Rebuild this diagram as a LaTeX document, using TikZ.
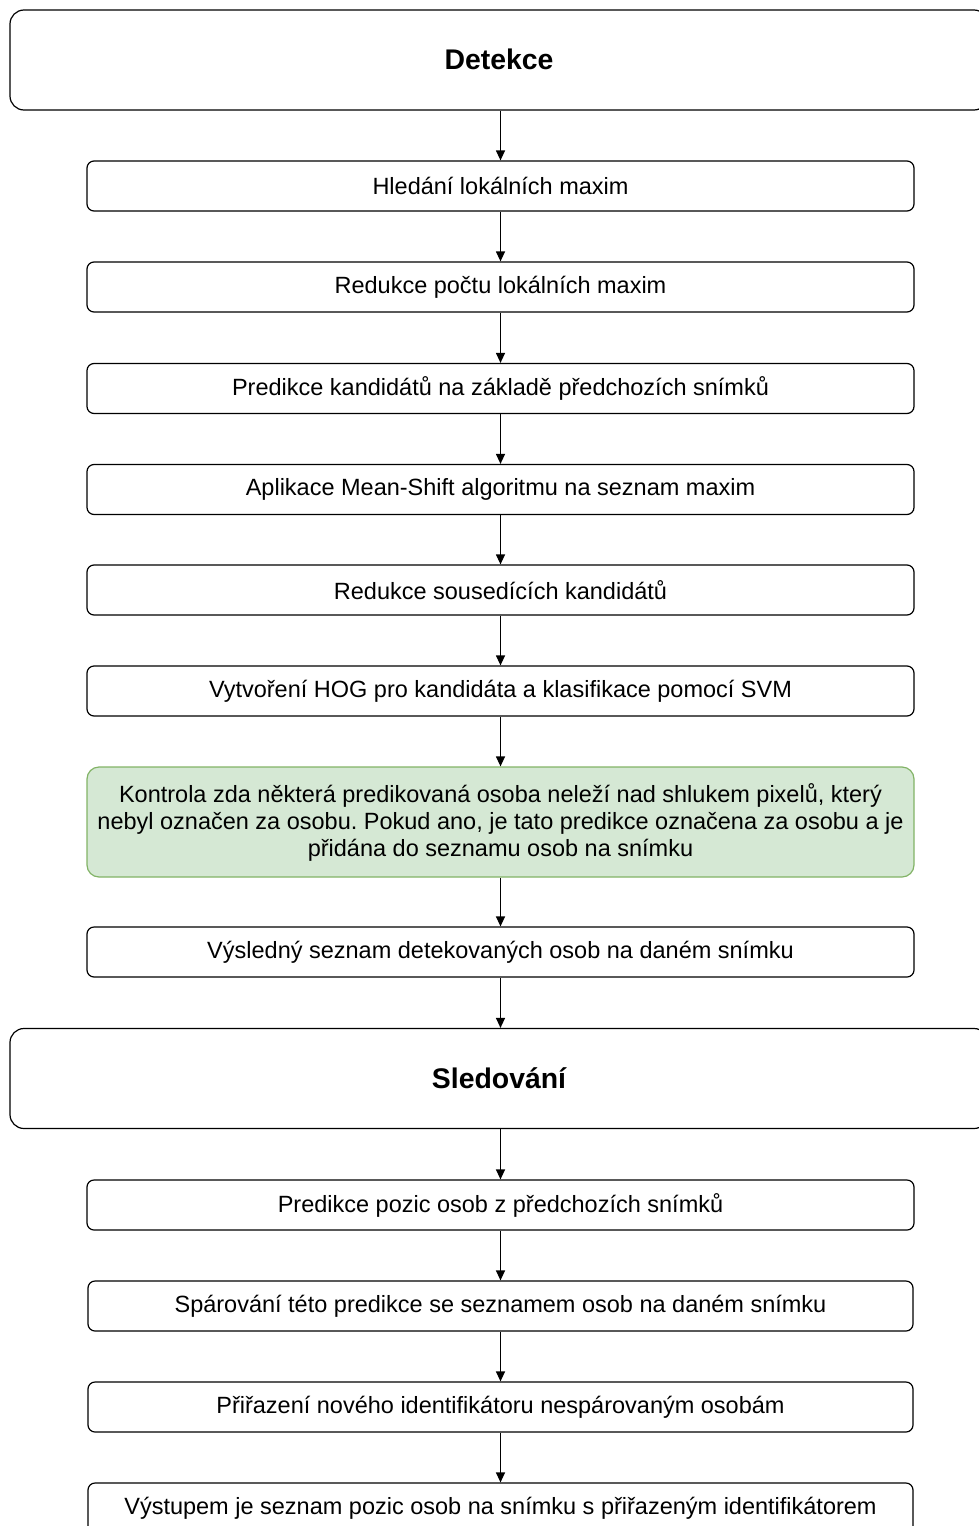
\documentclass[tikz,border=0pt]{standalone}
\usepackage{fontspec}
\setmainfont{Liberation Sans}
\frenchspacing
\usetikzlibrary{arrows.meta}
\begin{document}
\begin{tikzpicture}[x=1pt,y=-1pt,
  txt/.style={font=\fontsize{23.5}{27}\selectfont},
  stepbox/.style={draw=black, line width=1.2pt, rounded corners=7pt, fill=white,
    minimum width=827pt, minimum height=50pt, inner sep=0pt, txt},
  bigbox/.style={draw=black, line width=1.2pt, rounded corners=14pt, fill=white,
    minimum width=978pt, minimum height=100pt, inner sep=0pt,
    font=\fontsize{28.4}{32}\selectfont\bfseries},
  greenbox/.style={draw={rgb,255:red,130;green,179;blue,102}, fill={rgb,255:red,213;green,232;blue,212},
    line width=1.2pt, rounded corners=12pt, minimum width=827pt, minimum height=110pt,
    inner sep=0pt, align=center, txt},
  arr/.style={draw=black, line width=1.2pt, -{Triangle[length=10pt,width=9pt]}}]
\useasboundingbox (0,0) rectangle (979,1526);
\clip (0,0) rectangle (979,1526);
\node[bigbox] (det) at (499,60) {\raisebox{2pt}{Detekce}};
\node[stepbox] (b1) at (500.5,186) {Hledání lokálních maxim};
\node[stepbox] (b2) at (500.5,287) {Redukce počtu lokálních maxim};
\node[stepbox] (b3) at (500.5,388.5) {Predikce kandidátů na základě předchozích snímků};
\node[stepbox] (b4) at (500.5,489.5) {Aplikace Mean-Shift algoritmu na seznam maxim};
\node[stepbox] (b5) at (500.5,590) {Redukce sousedících kandidátů};
\node[stepbox] (b6) at (500.5,691) {Vytvoření HOG pro kandidáta a klasifikace pomocí SVM};
\node[greenbox] (g) at (500.5,822) {Kontrola zda některá predikovaná osoba neleží nad shlukem pixelů, který\\nebyl označen za osobu. Pokud ano, je tato predikce označena za osobu a je\\přidána do seznamu osob na snímku};
\node[stepbox] (b8) at (500.5,952) {Výsledný seznam detekovaných osob na daném snímku};
\node[bigbox] (sle) at (499,1078.5) {Sledování};
\node[stepbox] (b9) at (500.5,1205) {Predikce pozic osob z předchozích snímků};
\node[stepbox,minimum width=825pt] (b10) at (500.5,1306) {Spárování této predikce se seznamem osob na daném snímku};
\node[stepbox,minimum width=825pt] (b11) at (500.5,1407) {Přiřazení nového identifikátoru nespárovaným osobám};
\node[stepbox,minimum width=825pt] (b12) at (500.5,1508) {Výstupem je seznam pozic osob na snímku s přiřazeným identifikátorem};
\draw[arr] (det.south -| b1.north) -- (b1.north);
\draw[arr] (b1) -- (b2);
\draw[arr] (b2) -- (b3);
\draw[arr] (b3) -- (b4);
\draw[arr] (b4) -- (b5);
\draw[arr] (b5) -- (b6);
\draw[arr] (b6) -- (g);
\draw[arr] (g) -- (b8);
\draw[arr] (b8.south) -- (sle.north -| b8.south);
\draw[arr] (sle.south -| b9.north) -- (b9.north);
\draw[arr] (b9) -- (b10);
\draw[arr] (b10) -- (b11);
\draw[arr] (b11) -- (b12);
\end{tikzpicture}
\end{document}
